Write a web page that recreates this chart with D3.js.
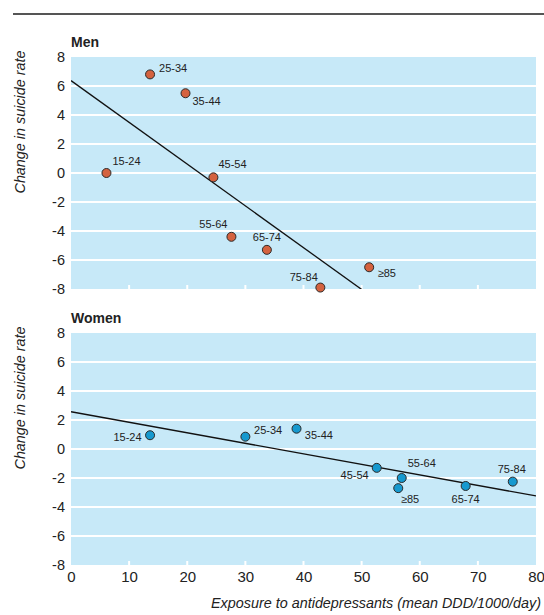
<!DOCTYPE html>
<html>
<head>
<meta charset="utf-8">
<script src="https://cdn.jsdelivr.net/npm/d3@7"></script>
<style>
  body { margin: 0; background: #fff; }
  svg { display: block; }
  text { font-family: "Liberation Sans", Arial, sans-serif; fill: #222; }
</style>
</head>
<body>
<svg id="chart" width="544" height="615"></svg>
<script>
// ---- data ----
const ageGroups = ["15-24", "25-34", "35-44", "45-54", "55-64", "65-74", "75-84", "\u226585"];
const menExposure = [6.1, 13.6, 19.7, 24.5, 27.6, 33.7, 42.9, 51.3];
const menChange = [0.0, 6.8, 5.5, -0.3, -4.4, -5.3, -7.9, -6.5];
const womenExposure = [13.6, 30.0, 38.8, 52.6, 56.9, 67.9, 76.0, 56.3];
const womenChange = [0.95, 0.85, 1.4, -1.3, -2.0, -2.55, -2.25, -2.7];
const menFit = [6.37, -0.288];      // intercept, slope
const womenFit = [2.57, -0.0726];   // intercept, slope
const xTicks = [0, 10, 20, 30, 40, 50, 60, 70, 80];
const yTicks = [-8, -6, -4, -2, 0, 2, 4, 6, 8];
const panelTitles = ["Men", "Women"];
const yTitle = "Change in suicide rate";
const xTitle = "Exposure to antidepressants (mean DDD/1000/day)";

// label placement (layout only)
const menLabelPos = [[6, -8, "start"], [9, -2, "start"], [7, 12, "start"], [5, -9, "start"],
                     [-4, -9, "end"], [0, -8.5, "middle"], [-2.5, -7, "end"], [8.5, 10, "start"]];
const womenLabelPos = [[-8.5, 5.4, "end"], [8.7, -2.7, "start"], [8.3, 10.3, "start"], [-8, 11.3, "end"],
                       [6, -11, "start"], [0, 17, "middle"], [-1, -9, "middle"], [2.7, 15, "start"]];

const svg = d3.select("#chart");
const W = 544;
const left = 71, right = 536;
const panels = [
  { top: 57, bottom: 289, xs: menExposure, ys: menChange, fit: menFit, fill: "#d4623f", labels: menLabelPos, title: panelTitles[0] },
  { top: 333, bottom: 565, xs: womenExposure, ys: womenChange, fit: womenFit, fill: "#1699cf", labels: womenLabelPos, title: panelTitles[1] }
];

// top rule
svg.append("line").attr("x1", 13).attr("x2", W).attr("y1", 14).attr("y2", 14)
  .attr("stroke", "#555").attr("stroke-width", 2);

const x = d3.scaleLinear().domain([0, 80]).range([left, right]);

panels.forEach((p, pi) => {
  const y = d3.scaleLinear().domain([-8, 8]).range([p.bottom, p.top]);
  const g = svg.append("g");

  // background
  g.append("rect").attr("x", left).attr("y", p.top)
    .attr("width", right - left).attr("height", p.bottom - p.top)
    .attr("fill", "#c7e9f8");

  // gridlines
  g.selectAll(".grid").data(yTicks.filter(t => t > -8 && t < 8)).join("line")
    .attr("x1", left).attr("x2", right)
    .attr("y1", d => y(d)).attr("y2", d => y(d))
    .attr("stroke", "#fff").attr("stroke-width", 2);

  // small white ticks at bottom
  g.selectAll(".xt").data(xTicks.filter(t => t > 0 && t < 80)).join("line")
    .attr("x1", d => x(d)).attr("x2", d => x(d))
    .attr("y1", p.bottom).attr("y2", p.bottom - 4)
    .attr("stroke", "#fff").attr("stroke-width", 2);

  // y axis
  const ya = g.append("g").attr("transform", `translate(${left},0)`)
    .call(d3.axisLeft(y).tickValues(yTicks).tickSize(0).tickPadding(6).tickFormat(d => d < 0 ? "-" + Math.abs(d) : d));
  ya.select(".domain").remove();
  ya.selectAll("text").style("font-family", "'Liberation Sans', Arial, sans-serif")
    .style("font-size", "14.5px").attr("fill", "#222");

  // panel title
  g.append("text").attr("x", left).attr("y", p.top - 10)
    .style("font-weight", "bold").style("font-size", "14px").text(p.title);

  // y title
  g.append("text")
    .attr("transform", `translate(25,${p.top + 65}) rotate(-90)`)
    .attr("text-anchor", "middle")
    .attr("textLength", 143).attr("lengthAdjust", "spacingAndGlyphs")
    .style("font-style", "italic").style("font-size", "15px")
    .text(yTitle);

  // clip
  const cid = "clip" + pi;
  g.append("clipPath").attr("id", cid).append("rect")
    .attr("x", left).attr("y", p.top).attr("width", right - left).attr("height", p.bottom - p.top);

  // fit line
  const fitLine = d3.line().x(d => x(d)).y(d => y(p.fit[0] + p.fit[1] * d));
  g.append("path").datum([0, 80]).attr("d", fitLine)
    .attr("clip-path", `url(#${cid})`)
    .attr("fill", "none").attr("stroke", "#111").attr("stroke-width", 1.3);

  // points
  const pts = p.xs.map((xv, i) => ({ x: xv, y: p.ys[i], label: ageGroups[i], pos: p.labels[i] }));
  g.selectAll("circle").data(pts).join("circle")
    .attr("cx", d => x(d.x)).attr("cy", d => y(d.y)).attr("r", 4.5)
    .attr("fill", p.fill).attr("stroke", "#2a2a2a").attr("stroke-width", 1);

  g.selectAll(".lbl").data(pts).join("text")
    .attr("x", d => x(d.x) + d.pos[0]).attr("y", d => y(d.y) + d.pos[1])
    .attr("text-anchor", d => d.pos[2])
    .style("font-size", "11px")
    .text(d => d.label);

  // x axis on bottom panel only
  if (pi === 1) {
    const xa = g.append("g").attr("transform", `translate(0,${p.bottom})`)
      .call(d3.axisBottom(x).tickValues(xTicks).tickSize(0).tickPadding(6));
    xa.select(".domain").remove();
    xa.selectAll("text").style("font-family", "'Liberation Sans', Arial, sans-serif")
      .style("font-size", "15px").attr("fill", "#222");
  }
});

// x title
svg.append("text").attr("x", 541).attr("y", 608).attr("text-anchor", "end")
  .attr("textLength", 330).attr("lengthAdjust", "spacingAndGlyphs")
  .style("font-style", "italic").style("font-size", "14.5px")
  .text(xTitle);
</script>
</body>
</html>
